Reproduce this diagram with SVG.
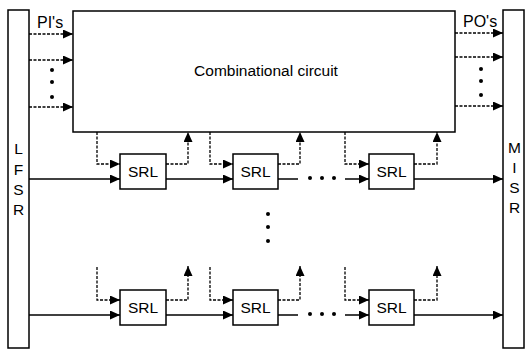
<svg xmlns="http://www.w3.org/2000/svg" width="526" height="349" viewBox="0 0 526 349">
<style>
.box{fill:#fff;stroke:#000;stroke-width:1.5}
.sol{fill:none;stroke:#000;stroke-width:1.5}
.dash{fill:none;stroke:#000;stroke-width:1.3;stroke-dasharray:3 1.5}
.t{font-family:"Liberation Sans",Arial,sans-serif;fill:#000}
.dot{fill:#000}
</style>
<defs>
<marker id="ah" markerUnits="userSpaceOnUse" markerWidth="10" markerHeight="9" refX="10" refY="4.5" orient="auto" viewBox="0 0 10 9">
<path d="M0,0 L10,4.5 L0,9 z" fill="#000"/>
</marker>
</defs>
<rect width="526" height="349" fill="#fff"/>
<g id="lfsr">
<rect class="box" x="8" y="10" width="21" height="338"/>
<text class="t" font-size="15.5" text-anchor="middle" x="18.5" y="154">L</text>
<text class="t" font-size="15.5" text-anchor="middle" x="18.5" y="175">F</text>
<text class="t" font-size="15.5" text-anchor="middle" x="18.5" y="195">S</text>
<text class="t" font-size="15.5" text-anchor="middle" x="18.5" y="215">R</text>
</g>
<g id="misr">
<rect class="box" x="503" y="10" width="21" height="338"/>
<text class="t" font-size="15.5" text-anchor="middle" x="514.5" y="153">M</text>
<text class="t" font-size="15.5" text-anchor="middle" x="514.5" y="173">I</text>
<text class="t" font-size="15.5" text-anchor="middle" x="514.5" y="193">S</text>
<text class="t" font-size="15.5" text-anchor="middle" x="514.5" y="213">R</text>
</g>
<g id="comb">
<rect class="box" x="73" y="11" width="382" height="121"/>
<text class="t" font-size="15.5" text-anchor="middle" x="266" y="76">Combinational circuit</text>
</g>
<g id="labels">
<text class="t" font-size="16" x="37" y="28">PI's</text>
<text class="t" font-size="16" x="463" y="27">PO's</text>
</g>
<g id="srl-1-1"><rect class="box" x="120" y="154" width="46" height="35"/><text class="t" font-size="15.5" text-anchor="middle" x="143" y="177">SRL</text></g>
<g id="srl-1-2"><rect class="box" x="233" y="154" width="45" height="35"/><text class="t" font-size="15.5" text-anchor="middle" x="255.5" y="177">SRL</text></g>
<g id="srl-1-3"><rect class="box" x="369" y="154" width="45" height="35"/><text class="t" font-size="15.5" text-anchor="middle" x="391.5" y="177">SRL</text></g>
<g id="srl-2-1"><rect class="box" x="120" y="290" width="46" height="35"/><text class="t" font-size="15.5" text-anchor="middle" x="143" y="313">SRL</text></g>
<g id="srl-2-2"><rect class="box" x="233" y="290" width="45" height="35"/><text class="t" font-size="15.5" text-anchor="middle" x="255.5" y="313">SRL</text></g>
<g id="srl-2-3"><rect class="box" x="369" y="290" width="45" height="35"/><text class="t" font-size="15.5" text-anchor="middle" x="391.5" y="313">SRL</text></g>
<g id="connectors">
<path class="dash" marker-end="url(#ah)" d="M29,34 H73"/>
<path class="dash" marker-end="url(#ah)" d="M29,60 H73"/>
<path class="dash" marker-end="url(#ah)" d="M29,107 H73"/>
<path class="dash" marker-end="url(#ah)" d="M455,33 H503"/>
<path class="dash" marker-end="url(#ah)" d="M455,57 H503"/>
<path class="dash" marker-end="url(#ah)" d="M455,106 H503"/>
<path class="sol" marker-end="url(#ah)" d="M29,179 H120"/>
<path class="dash" marker-end="url(#ah)" d="M97,132 V164 H120"/>
<path class="dash" marker-end="url(#ah)" d="M166,164 H188 V132"/>
<path class="sol" marker-end="url(#ah)" d="M166,179 H233"/>
<path class="dash" marker-end="url(#ah)" d="M210,132 V164 H233"/>
<path class="dash" marker-end="url(#ah)" d="M278,164 H300 V132"/>
<path class="sol" d="M278,179 H298"/>
<path class="sol" marker-end="url(#ah)" d="M345,179 H369"/>
<path class="dash" marker-end="url(#ah)" d="M345,132 V164 H369"/>
<path class="dash" marker-end="url(#ah)" d="M414,164 H437 V132"/>
<path class="sol" marker-end="url(#ah)" d="M414,179 H503"/>
<path class="sol" marker-end="url(#ah)" d="M29,315 H120"/>
<path class="dash" marker-end="url(#ah)" d="M97,267 V300 H120"/>
<path class="dash" marker-end="url(#ah)" d="M166,300 H188 V266"/>
<path class="sol" marker-end="url(#ah)" d="M166,315 H233"/>
<path class="dash" marker-end="url(#ah)" d="M210,267 V300 H233"/>
<path class="dash" marker-end="url(#ah)" d="M278,300 H300 V266"/>
<path class="sol" d="M278,315 H298"/>
<path class="sol" marker-end="url(#ah)" d="M345,315 H369"/>
<path class="dash" marker-end="url(#ah)" d="M345,267 V300 H369"/>
<path class="dash" marker-end="url(#ah)" d="M414,300 H437 V266"/>
<path class="sol" marker-end="url(#ah)" d="M414,315 H503"/>
</g>
<g id="dots">
<circle class="dot" cx="52" cy="70" r="2"/>
<circle class="dot" cx="52" cy="82" r="2"/>
<circle class="dot" cx="52" cy="97" r="2"/>
<circle class="dot" cx="481" cy="69" r="2"/>
<circle class="dot" cx="481" cy="81" r="2"/>
<circle class="dot" cx="481" cy="95" r="2"/>
<circle class="dot" cx="310" cy="178" r="2"/>
<circle class="dot" cx="322" cy="178" r="2"/>
<circle class="dot" cx="334" cy="178" r="2"/>
<circle class="dot" cx="310" cy="314" r="2"/>
<circle class="dot" cx="322" cy="314" r="2"/>
<circle class="dot" cx="334" cy="314" r="2"/>
<circle class="dot" cx="268" cy="214" r="2"/>
<circle class="dot" cx="268" cy="227" r="2"/>
<circle class="dot" cx="268" cy="241" r="2"/>
</g>
</svg>
